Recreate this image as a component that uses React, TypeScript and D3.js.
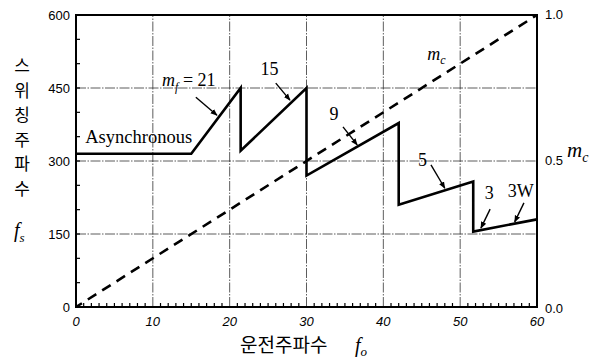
import React from "react";
import * as d3 from "d3";

const foPts = [0, 15, 21.43, 21.43, 30, 30, 42, 42, 51.7, 51.7, 60];
const fsPts = [315, 315, 450, 321, 450, 270, 378, 210, 258, 155, 180];
const mcFo = [0, 60];
const mcVals = [0, 1.0];
const xTicks = [0, 10, 20, 30, 40, 50, 60];
const yTicks = [0, 150, 300, 450, 600];
const y2Ticks = [0, 0.5, 1.0];
const leftTitle = ["스", "위", "칭", "주", "파", "수"];

const labels = [
  { t: "15", x: 24.0, y: 477 },
  { t: "9", x: 33.0, y: 384 },
  { t: "5", x: 44.5, y: 290 },
  { t: "3", x: 53.2, y: 222 },
  { t: "3W", x: 56.2, y: 226 },
];
const leaders = [
  { x1: 15.6, y1: 431, x2: 18.35, y2: 394 },
  { x1: 26.0, y1: 460, x2: 27.85, y2: 425 },
  { x1: 34.75, y1: 370, x2: 36.6, y2: 333 },
  { x1: 46.2, y1: 292, x2: 48.0, y2: 244 },
  { x1: 53.9, y1: 201, x2: 52.7, y2: 162 },
  { x1: 58.3, y1: 214, x2: 57.1, y2: 175 },
];

export default function App() {
  const W = 599, H = 358;
  const x = d3.scaleLinear().domain([0, 60]).range([76, 537]);
  const y = d3.scaleLinear().domain([0, 600]).range([307, 15]);
  const y2 = d3.scaleLinear().domain([0, 1]).range([307, 15]);
  const line = d3.line<number>().x((d, i) => x(foPts[i])).y((d) => y(d));
  const mcLine = d3.line<number>().x((d, i) => x(mcFo[i])).y((d) => y2(d));
  const minorX = d3.range(1, 60);
  const minorY = d3.range(50, 600, 50);
  const serif = "'Liberation Serif', 'Times New Roman', serif";
  const sans = "'Liberation Sans', Arial, sans-serif";
  const kr = "'Noto Sans CJK KR', sans-serif";

  return (
    <svg width={W} height={H} style={{ position: "absolute", left: 0, top: 0, background: "#fff" }}>
      <defs>
        <marker id="ah" viewBox="0 0 10 10" refX="9" refY="5" markerWidth="5" markerHeight="5" orient="auto">
          <path d="M0,1 L10,5 L0,9 z" fill="#000" />
        </marker>
      </defs>
      {xTicks.slice(1, -1).map((t) => (
        <line key={"gx" + t} x1={x(t)} x2={x(t)} y1={y(0)} y2={y(600)} stroke="#333" strokeWidth={0.8} strokeDasharray="10,1.5,1.5,1.5" />
      ))}
      {yTicks.slice(1, -1).map((t) => (
        <line key={"gy" + t} x1={x(0)} x2={x(60)} y1={y(t)} y2={y(t)} stroke="#333" strokeWidth={0.8} strokeDasharray="10,1.5,1.5,1.5" />
      ))}
      {minorX.map((t) => (
        <line key={"mx" + t} x1={x(t)} x2={x(t)} y1={y(0)} y2={y(0) - (t % 10 === 0 ? 0 : 4)} stroke="#000" strokeWidth={1.2} />
      ))}
      {minorY.map((t) => (
        <line key={"my" + t} x1={x(0)} x2={x(0) + 4} y1={y(t)} y2={y(t)} stroke="#000" strokeWidth={1.2} />
      ))}
      <rect x={x(0)} y={y(600)} width={x(60) - x(0)} height={y(0) - y(600)} fill="none" stroke="#000" strokeWidth={2} />
      <path d={mcLine(mcVals) || ""} fill="none" stroke="#000" strokeWidth={2.6} strokeDasharray="10,7" strokeDashoffset={-14} />
      <path d={line(fsPts) || ""} fill="none" stroke="#000" strokeWidth={2.6} strokeLinejoin="miter" />
      {leaders.map((l, i) => (
        <line key={"ld" + i} x1={x(l.x1)} y1={y(l.y1)} x2={x(l.x2)} y2={y(l.y2)} stroke="#000" strokeWidth={1.4} markerEnd="url(#ah)" />
      ))}
      <text x={x(11.2)} y={y(454)} fontFamily={serif} fontSize={18}>
        <tspan fontStyle="italic">m</tspan>
        <tspan fontStyle="italic" fontSize={12} dy={5}>f</tspan>
        <tspan dy={-5}> = 21</tspan>
      </text>
      {labels.map((l) => (
        <text key={l.t} x={x(l.x)} y={y(l.y)} fontFamily={serif} fontSize={18}>{l.t}</text>
      ))}
      <text x={x(1.2)} y={y(337)} fontFamily={serif} fontSize={18.5}>Asynchronous</text>
      <text x={x(45.7)} y={y(507)} fontFamily={serif} fontSize={18} fontStyle="italic">
        m<tspan fontSize={12} dy={4}>c</tspan>
      </text>
      {yTicks.map((t) => (
        <text key={"yl" + t} x={x(0) - 6} y={y(t) + 5} textAnchor="end" fontFamily={sans} fontSize={13}>{t}</text>
      ))}
      {y2Ticks.map((t) => (
        <text key={"y2l" + t} x={x(60) + 8} y={y2(t) + (t === 0 ? 6 : 4)} fontFamily={sans} fontSize={13}>{t.toFixed(1)}</text>
      ))}
      {xTicks.map((t) => (
        <text key={"xl" + t} x={x(t)} y={y(0) + 19} textAnchor="middle" fontFamily={sans} fontSize={13} fontStyle="italic">{t}</text>
      ))}
      {leftTitle.map((c, i) => (
        <text key={"lt" + i} x={22} y={72 + i * 24.5} textAnchor="middle" fontFamily={kr} fontSize={17}>{c}</text>
      ))}
      <text x={14} y={237} fontFamily={serif} fontSize={20} fontStyle="italic">
        f<tspan fontSize={13} dy={5}>s</tspan>
      </text>
      <text x={567} y={157} fontFamily={serif} fontSize={21} fontStyle="italic">
        m<tspan fontSize={14} dy={5}>c</tspan>
      </text>
      <text x={240} y={352} fontFamily={kr} fontSize={19}>운전주파수</text>
      <text x={355} y={352} fontFamily={serif} fontSize={20} fontStyle="italic">
        f<tspan fontSize={13} dy={4}>o</tspan>
      </text>
    </svg>
  );
}
